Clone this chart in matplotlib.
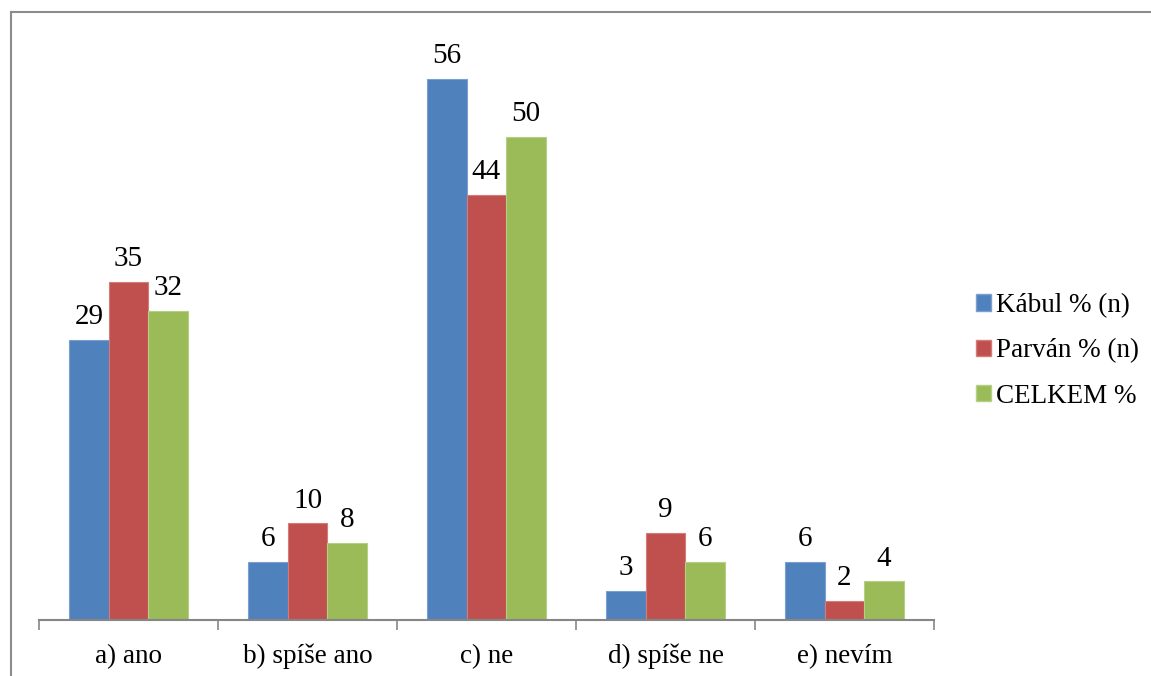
import numpy as np
import matplotlib.pyplot as plt
from matplotlib.lines import Line2D
from matplotlib.patches import Patch

# data
kategorie = ['a) ano', 'b) spíše ano', 'c) ne', 'd) spíše ne', 'e) nevím']
kabul = [29, 6, 56, 3, 6]
parvan = [35, 10, 44, 9, 2]
celkem = [32, 8, 50, 6, 4]
serie = ['Kábul % (n)', 'Parván % (n)', 'CELKEM %']
barvy = ['#4F81BD', '#C0504D', '#9BBB59']
okraje = ['#7A9FD0', '#D47C7A', '#B5D084']

plt.rcParams['font.family'] = ['Liberation Serif', 'DejaVu Serif']

fig = plt.figure(figsize=(11.51, 6.76), dpi=100)
ax = fig.add_axes([39/1151, 56/676, 895/1151, 580/676])

x = np.arange(len(kategorie))
w = 0.22
for i, (hodnoty, nazev) in enumerate(zip([kabul, parvan, celkem], serie)):
    bars = ax.bar(x + (i - 1) * w, hodnoty, w, color=barvy[i],
                  edgecolor=okraje[i], linewidth=0.8, label=nazev)
    ax.bar_label(bars, padding=7, fontsize=21)

ax.set_xlim(-0.5, len(kategorie) - 0.5)
ax.set_ylim(0, 60)
ax.set_xticks(x)
ax.set_xticklabels(kategorie, fontsize=19.5)
ax.tick_params(axis='x', which='major', length=0, pad=17)
ax.set_xticks(np.arange(-0.5, len(kategorie)), minor=True)
ax.tick_params(axis='x', which='minor', length=7, width=1.2, color='#868686')
ax.set_yticks([])
for s in ['top', 'right', 'left']:
    ax.spines[s].set_visible(False)
ax.spines['bottom'].set_color('#868686')
ax.spines['bottom'].set_linewidth(1.5)

# legenda
handles = [Patch(facecolor=barvy[i], edgecolor=okraje[i]) for i in range(3)]
fig.legend(handles, serie, loc='center left', bbox_to_anchor=(976/1151, 0.481),
           frameon=False, fontsize=19.5, handlelength=0.55, handleheight=0.55,
           handletextpad=0.2, labelspacing=0.75, borderpad=0, borderaxespad=0)

# ramecek
fig.add_artist(Line2D([10.5/1151, 1], [1 - 11.5/676, 1 - 11.5/676],
                      color='#8C8C8C', linewidth=1.5))
fig.add_artist(Line2D([10.5/1151, 10.5/1151], [0, 1 - 11.5/676],
                      color='#8C8C8C', linewidth=1.5))

fig.savefig('out.png', dpi=100)
